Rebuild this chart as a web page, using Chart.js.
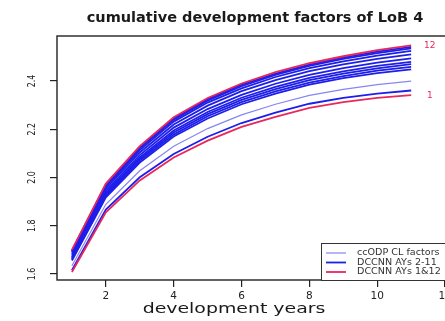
<!DOCTYPE html>
<html>
<head>
<meta charset="utf-8">
<script src="https://cdn.jsdelivr.net/npm/chart.js@4"></script>
<style>
  body { margin: 0; background: #fff; overflow: hidden; }
  #myChart { position: absolute; left: 0; top: 0; filter: blur(0.4px); }
</style>
</head>
<body>
<canvas id="myChart" width="460" height="321"></canvas>
<script>
const title = 'cumulative development factors of LoB 4';
const xTitle = 'development years';

const devYears = [1, 2, 3, 4, 5, 6, 7, 8, 9, 10, 11];
const xTicks = [2, 4, 6, 8, 10, 12];
const yTicks = [1.6, 1.8, 2.0, 2.2, 2.4];
const yTickLabels = ['1.6', '1.8', '2.0', '2.2', '2.4'];

// DCCNN curves per accident year
const ay1  = [1.608, 1.856, 1.988, 2.083, 2.153, 2.210, 2.252, 2.289, 2.313, 2.330, 2.342];
const ay2  = [1.616, 1.867, 2.001, 2.098, 2.169, 2.226, 2.269, 2.306, 2.330, 2.348, 2.361];
const ay3  = [1.656, 1.918, 2.062, 2.170, 2.245, 2.304, 2.348, 2.385, 2.412, 2.433, 2.449];
const ay4  = [1.660, 1.924, 2.069, 2.178, 2.254, 2.313, 2.357, 2.394, 2.421, 2.443, 2.459];
const ay5  = [1.665, 1.930, 2.076, 2.187, 2.263, 2.322, 2.367, 2.404, 2.431, 2.453, 2.470];
const ay6  = [1.670, 1.936, 2.083, 2.195, 2.272, 2.331, 2.376, 2.413, 2.440, 2.463, 2.480];
const ay7  = [1.676, 1.944, 2.093, 2.207, 2.284, 2.343, 2.389, 2.426, 2.454, 2.477, 2.494];
const ay8  = [1.683, 1.954, 2.104, 2.220, 2.298, 2.358, 2.404, 2.441, 2.469, 2.492, 2.511];
const ay9  = [1.690, 1.962, 2.114, 2.232, 2.311, 2.370, 2.417, 2.454, 2.482, 2.506, 2.525];
const ay10 = [1.694, 1.968, 2.121, 2.240, 2.319, 2.379, 2.426, 2.463, 2.492, 2.516, 2.536];
const ay11 = [1.697, 1.971, 2.126, 2.245, 2.325, 2.385, 2.431, 2.468, 2.497, 2.522, 2.542];
const ay12 = [1.700, 1.975, 2.130, 2.250, 2.330, 2.390, 2.437, 2.474, 2.503, 2.528, 2.548];
// ccODP chain ladder factors
const odpCL = [1.634, 1.889, 2.028, 2.130, 2.203, 2.260, 2.304, 2.341, 2.366, 2.385, 2.400];

const legendLabels = ['ccODP CL factors', 'DCCNN AYs 2-11', 'DCCNN AYs 1&12'];
const colODP = '#8686f2';
const colBlue = '#1e1eea';
const colRed = '#e8285c';

function pts(vals) {
  return vals.map((v, i) => ({ x: devYears[i], y: v }));
}

function ds(vals, color, width, order) {
  return { data: pts(vals), borderColor: color, borderWidth: width, order: order, fill: false };
}

const blueYears = [ay2, ay3, ay4, ay5, ay6, ay7, ay8, ay9, ay10, ay11];
const datasets = [ds(ay1, colRed, 1.8, 0), ds(ay12, colRed, 1.8, 0)];
blueYears.forEach(a => datasets.push(ds(a, colBlue, 1.8, 2)));
datasets.push(ds(odpCL, colODP, 1.2, 1));

const decor = {
  id: 'decor',
  afterDraw(chart) {
    const ctx = chart.ctx;
    const a = chart.chartArea;
    const x = chart.scales.x, y = chart.scales.y;
    ctx.save();
    // box round the plot
    ctx.strokeStyle = '#222';
    ctx.lineWidth = 1.4;
    ctx.strokeRect(a.left, a.top, a.right - a.left, a.bottom - a.top);

    // rotated y labels
    ctx.fillStyle = '#222';
    ctx.font = '10.5px "DejaVu Sans"';
    ctx.textAlign = 'center';
    ctx.textBaseline = 'middle';
    yTicks.forEach((v, i) => {
      ctx.save();
      ctx.translate(32, y.getPixelForValue(v));
      ctx.rotate(-Math.PI / 2);
      ctx.scale(0.75, 1);
      ctx.fillText(yTickLabels[i], 0, 0);
      ctx.restore();
    });

    // main title
    ctx.font = 'bold 14.5px "DejaVu Sans"';
    ctx.fillStyle = '#1a1a1a';
    ctx.fillText(title, 255, 18);

    // x axis title, drawn wider like the picture
    ctx.save();
    ctx.font = '13.5px "DejaVu Sans"';
    ctx.translate(234, 309);
    ctx.scale(1.4, 1);
    ctx.fillText(xTitle, 0, 0);
    ctx.restore();

    // end labels
    ctx.fillStyle = colRed;
    ctx.font = '9px "DejaVu Sans"';
    const xl = x.getPixelForValue(11.55);
    ctx.fillText('12', xl, y.getPixelForValue(ay12[ay12.length - 1]));
    ctx.fillText('1', xl, y.getPixelForValue(ay1[ay1.length - 1]) + 1);

    // legend
    const lx = 321, ly = 243;
    ctx.fillStyle = '#fff';
    ctx.fillRect(lx, ly, 150, a.bottom - ly);
    ctx.strokeStyle = '#333';
    ctx.lineWidth = 1;
    ctx.strokeRect(lx + 0.5, ly + 0.5, 150, a.bottom - ly);
    const cols = [colODP, colBlue, colRed];
    const widths = [1.2, 1.8, 1.8];
    ctx.textAlign = 'left';
    ctx.font = '8px "DejaVu Sans"';
    legendLabels.forEach((t, i) => {
      const ry = ly + 10 + i * 9.5;
      ctx.strokeStyle = cols[i];
      ctx.lineWidth = widths[i];
      ctx.beginPath();
      ctx.moveTo(lx + 5, ry);
      ctx.lineTo(lx + 25, ry);
      ctx.stroke();
      ctx.fillStyle = '#333';
      ctx.save();
      ctx.translate(lx + 36, ry);
      ctx.scale(1.2, 1);
      ctx.fillText(t, 0, 0);
      ctx.restore();
    });
    ctx.restore();
  }
};

const chartEl = document.getElementById('myChart').getContext('2d');
new Chart(chartEl, {
  type: 'line',
  data: { datasets: datasets },
  options: {
    responsive: false,
    animation: false,
    devicePixelRatio: 1,
    layout: { padding: { top: 36, left: 0, right: 0, bottom: 0 } },
    plugins: { legend: { display: false }, title: { display: false }, tooltip: { enabled: false } },
    elements: { point: { radius: 0 }, line: { tension: 0 } },
    scales: {
      x: {
        type: 'linear', min: 0.56, max: 12.44,
        afterBuildTicks: s => { s.ticks = xTicks.map(v => ({ value: v })); },
        afterFit: s => { s.height = 41; },
        grid: { drawOnChartArea: false, drawTicks: true, tickLength: 7, color: '#222', lineWidth: 1.2 },
        border: { display: false },
        ticks: { font: { family: 'DejaVu Sans', size: 10.5 }, color: '#222', padding: 3, maxRotation: 0, autoSkip: false }
      },
      y: {
        type: 'linear', min: 1.575, max: 2.587,
        afterBuildTicks: s => { s.ticks = yTicks.map(v => ({ value: v })); },
        afterFit: s => { s.width = 57; },
        grid: { drawOnChartArea: false, drawTicks: true, tickLength: 7, color: '#222', lineWidth: 1.2 },
        border: { display: false },
        ticks: { display: false }
      }
    }
  },
  plugins: [decor]
});
</script>
</body>
</html>
